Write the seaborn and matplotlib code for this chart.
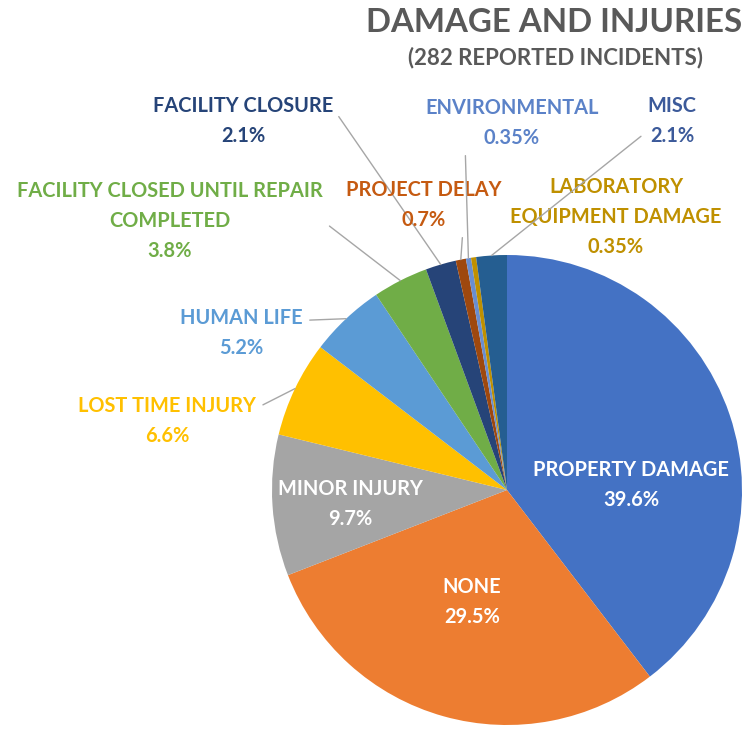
import matplotlib
matplotlib.use('Agg')
import numpy as np
import seaborn as sns
import matplotlib.pyplot as plt

sns.set_theme(style='white')
plt.rcParams['font.family'] = ['Lato', 'DejaVu Sans']

# data
categories = ['PROPERTY DAMAGE', 'NONE', 'MINOR INJURY', 'LOST TIME INJURY', 'HUMAN LIFE',
              'FACILITY CLOSED UNTIL REPAIR\nCOMPLETED', 'FACILITY CLOSURE', 'PROJECT DELAY',
              'ENVIRONMENTAL', 'LABORATORY\nEQUIPMENT DAMAGE', 'MISC']
shares = [39.6, 29.5, 9.7, 6.6, 5.2, 3.8, 2.1, 0.7, 0.35, 0.35, 2.1]
title = 'DAMAGE AND INJURIES'
subtitle = '(282 REPORTED INCIDENTS)'

slice_colors = ['#4472C4', '#ED7D31', '#A5A5A5', '#FFC000', '#5B9BD5', '#70AD47',
                '#264478', '#9E480E', '#698ED0', '#BF9000', '#255E91']
text_colors = ['white', 'white', 'white', '#FFC000', '#5B9BD5', '#70AD47',
               '#264478', '#C55A11', '#5B82C8', '#BF9000', '#3C5A9A']

# label centres in pixels, and where the leader line leaves the label (None = no line)
label_px = [(631, 485), (472, 602), (350, 504), (167, 421), (241, 333), (170, 221),
            (243, 121), (424, 205), (512, 123), (616, 217), (672, 121)]
leader_rel = [None, None, None, (1.0, 0.75), (1.0, 0.75), (1.0, 0.5),
              (1.0, 0.75), (0.75, 0.0), (0.23, 0.0), None, (0.0, 0.3)]

W, H = 745, 729
cx, cy, r = 507, 490, 235

fig = plt.figure(figsize=(W / 100, H / 100), dpi=100)
ax = fig.add_axes([(cx - r) / W, (H - cy - r) / H, 2 * r / W, 2 * r / H])
wedges, _ = ax.pie(shares, colors=slice_colors, startangle=90, counterclock=False,
                   radius=1, wedgeprops=dict(linewidth=0))
ax.set_xlim(-1, 1)
ax.set_ylim(-1, 1)
ax.set_aspect('equal')
ax.axis('off')


def to_data(px, py):
    return ((px - cx) / r, (cy - py) / r)


for i, w in enumerate(wedges):
    text = f'{categories[i]}\n{shares[i]:g}%'
    pos = to_data(*label_px[i])
    mid = np.deg2rad((w.theta1 + w.theta2) / 2)
    tip = (np.cos(mid), np.sin(mid))
    kw = dict(ha='center', va='center', fontsize=14.4, fontweight='bold',
              color=text_colors[i], linespacing=1.65, annotation_clip=False)
    if leader_rel[i] is None:
        ax.annotate(text, xy=pos, xytext=pos, **kw)
    else:
        ax.annotate(text, xy=tip, xytext=pos,
                    arrowprops=dict(arrowstyle='-', color='#A6A6A6', lw=1,
                                    relpos=leader_rel[i], shrinkA=3, shrinkB=0),
                    **kw)

fig.text(554 / W, 1 - 22 / H, title, ha='center', va='center', fontsize=23.8,
         fontweight='bold', color='#595959')
fig.text(556 / W, 1 - 58 / H, subtitle, ha='center', va='center', fontsize=16,
         fontweight='bold', color='#595959')

fig.savefig('out.png', dpi=100)
